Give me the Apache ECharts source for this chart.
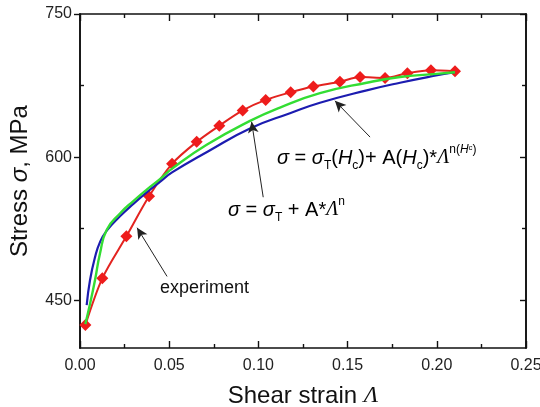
<!DOCTYPE html>
<html><head><meta charset="utf-8">
<script src="https://cdn.jsdelivr.net/npm/echarts@6/dist/echarts.min.js"></script>
<style>html,body{margin:0;padding:0;background:#fff}#c{width:540px;height:407px}</style>
</head><body><div id="c"></div>
<script>
// Experiment (red diamonds)
const expStrain = [0.003,0.0125,0.026,0.0387,0.0516,0.0654,0.0781,0.0912,0.1041,0.1181,0.1308,0.1457,0.157,0.171,0.1835,0.1967,0.2102];
const expStress = [424,473,517,559,593,616,633,649,660,668,674,679,684,683,688,691,690];
// sigma = sigmaT + A*Lambda^n (blue)
const blueStrain = [0.00375,0.0056,0.0084,0.0112,0.015,0.0224,0.0299,0.0374,0.0448,0.0516,0.0717,0.0953,0.1177,0.1345,0.1607,0.1794,0.198,0.2102];
const blueStress = [445,471,495,511,523,538,551,563,574,584,606,630,646,657,670,678,685,689];
// sigma = sigmaT(Hc) + A(Hc)*Lambda^n(Hc) (green)
const greenStrain = [0.003,0.0056,0.0084,0.0112,0.015,0.0224,0.0299,0.0374,0.0448,0.0516,0.071,0.0953,0.1121,0.1345,0.1607,0.1794,0.198,0.2102];
const greenStress = [425,446,471,499,524,541,554,566,577,588,613,638,652,667,678,684,687,689];
// axis ticks
const yMajor = [450,600,750];
const yMinor = [525,675];
// arrows [tail, head] in data units
const arrows = [
  [[0.0488,475],[0.032,526]],
  [[0.1027,558],[0.0962,637]],
  [[0.1626,621],[0.1429,659]]
];

const zip = (a,b)=>a.map((v,i)=>[v,b[i]]);
const chart = echarts.init(document.getElementById('c'), null, {renderer:'canvas'});
const F = 'Arial, "Liberation Sans", Helvetica, sans-serif';
const axisLine = {show:true, lineStyle:{color:'#111', width:1.6}};
const xBase = {type:'value', min:0, max:0.25, interval:0.05, splitLine:{show:false}, axisLine};
const yBase = {type:'value', min:400, max:750, splitLine:{show:false}, axisLine};

const eqRich = {
  m:{fontSize:20, fontFamily:F, color:'#111', lineHeight:28, verticalAlign:'middle'},
  i:{fontSize:20, fontFamily:F, fontStyle:'italic', color:'#111', lineHeight:28, verticalAlign:'middle'},
  l:{fontSize:20, fontFamily:'"Liberation Serif", serif', fontStyle:'italic', color:'#111', lineHeight:28, verticalAlign:'middle'},
  sub:{fontSize:12, fontFamily:F, color:'#111', lineHeight:12, verticalAlign:'bottom'},
  sup:{fontSize:12, fontFamily:F, color:'#111', lineHeight:12, verticalAlign:'top'},
  supi:{fontSize:12, fontFamily:F, fontStyle:'italic', color:'#111', lineHeight:12, verticalAlign:'top'},
  supsub:{fontSize:8, fontFamily:F, color:'#111', lineHeight:16, verticalAlign:'top'}
};

chart.setOption({
  animation:false,
  backgroundColor:'#fff',
  grid:{left:80, right:14, top:14, bottom:59, containLabel:false, outerBoundsMode:'none'},
  xAxis:[
    Object.assign({}, xBase, {
      position:'bottom',
      name:'{a|Shear strain }{l|Λ}', nameLocation:'middle', nameGap:36,
      nameTextStyle:{rich:{a:{fontSize:24, fontFamily:F, color:'#111'}, l:{fontSize:24, fontFamily:'"Liberation Serif", serif', fontStyle:'italic', color:'#111'}}},
      axisTick:{inside:true, length:7, lineStyle:{color:'#111', width:1.4}},
      minorTick:{show:true, splitNumber:2, length:4, lineStyle:{color:'#111', width:1.4}},
      axisLabel:{fontSize:16, fontFamily:F, color:'#222', margin:10, formatter:v=>v.toFixed(2)}
    }),
    Object.assign({}, xBase, {
      position:'top',
      axisTick:{inside:true, length:7, lineStyle:{color:'#111', width:1.4}},
      minorTick:{show:true, splitNumber:2, length:4, lineStyle:{color:'#111', width:1.4}},
      axisLabel:{show:false}
    })
  ],
  yAxis:[
    Object.assign({}, yBase, {
      position:'left',
      name:'{a|Stress }{i|σ}{a|, MPa}', nameLocation:'middle', nameGap:48,
      nameTextStyle:{rich:{a:{fontSize:24, fontFamily:F, color:'#111'}, i:{fontSize:24, fontFamily:F, fontStyle:'italic', color:'#111'}}},
      axisTick:{inside:false, length:6, customValues:yMajor, lineStyle:{color:'#111', width:1.4}},
      axisLabel:{fontSize:16, fontFamily:F, color:'#222', margin:8, customValues:yMajor}
    }),
    Object.assign({}, yBase, {
      position:'left',
      axisTick:{inside:true, length:4, customValues:yMinor, lineStyle:{color:'#111', width:1.4}},
      axisLabel:{show:false}
    }),
    Object.assign({}, yBase, {
      position:'right',
      axisTick:{inside:true, length:6, customValues:yMajor, lineStyle:{color:'#111', width:1.4}},
      axisLabel:{show:false}
    }),
    Object.assign({}, yBase, {
      position:'right',
      axisTick:{inside:true, length:4, customValues:yMinor, lineStyle:{color:'#111', width:1.4}},
      axisLabel:{show:false}
    })
  ],
  series:[
    {
      name:'experiment', type:'line', data:zip(expStrain, expStress), smooth:0.3,
      symbol:'diamond', symbolSize:12, showSymbol:true,
      lineStyle:{color:'#e3231f', width:2}, itemStyle:{color:'#ee1c1c'},
      z:2
    },
    {
      name:'model1', type:'line', data:zip(blueStrain, blueStress), smooth:0.5,
      symbol:'none', lineStyle:{color:'#1c1cb0', width:2.2}, z:3
    },
    {
      name:'model2', type:'line', data:zip(greenStrain, greenStress), smooth:0.5,
      symbol:'none', lineStyle:{color:'#33dd33', width:2.4}, z:4
    },
    {
      name:'arrows', type:'line', data:[], z:6,
      markLine:{
        silent:true, symbol:['none','arrow'], symbolSize:[8,11],
        lineStyle:{color:'#222', width:1, type:'solid'},
        itemStyle:{color:'#222'},
        label:{show:false},
        emphasis:{disabled:true},
        data:arrows.map(a=>[{coord:a[0]},{coord:a[1]}])
      }
    }
  ],
  graphic:[
    {type:'text', left:160, top:279, style:{text:'experiment', fontSize:18, fontFamily:F, fill:'#111'}},
    {type:'text', left:228, top:196, style:{
      text:'{i|σ}{m| = }{i|σ}{sub|T}{m| + A*}{l|Λ}{sup|n}', rich:eqRich}},
    {type:'text', left:277, top:144, style:{
      text:'{i|σ}{m| = }{i|σ}{sub|T}{m|(}{i|H}{sub|c}{m|)+ A(}{i|H}{sub|c}{m|)*}{l|Λ}{sup|n(}{supi|H}{supsub|c}{sup|)}', rich:eqRich}}
  ]
});
</script>
</body></html>
